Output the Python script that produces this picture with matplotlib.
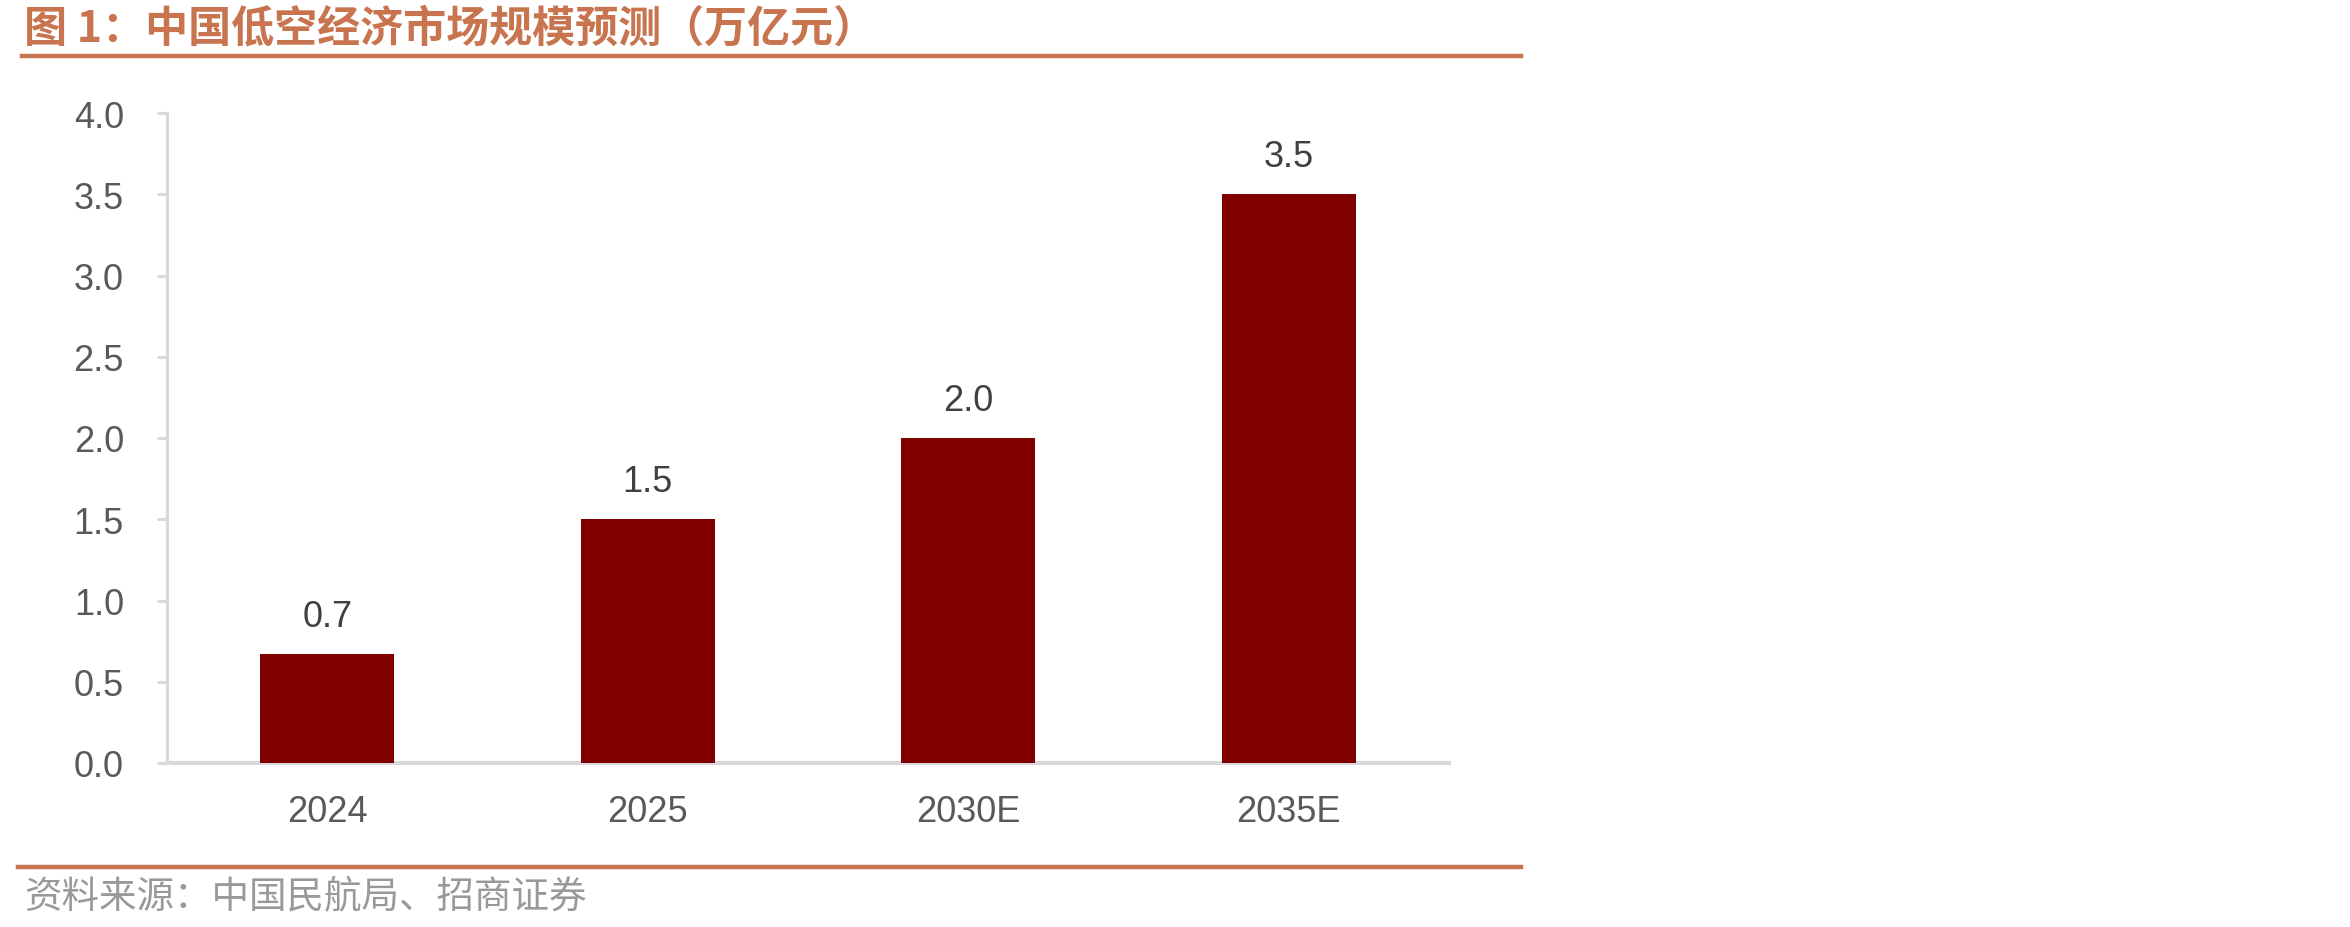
import matplotlib
matplotlib.use("Agg")
import matplotlib.pyplot as plt
from matplotlib.lines import Line2D

plt.rcParams['font.family'] = ['Liberation Sans', 'Noto Sans CJK SC', 'DejaVu Sans']

categories = ["2024", "2025", "2030E", "2035E"]
values = [0.67, 1.5, 2.0, 3.5]
value_labels = ["0.7", "1.5", "2.0", "3.5"]
yticks = [0.0, 0.5, 1.0, 1.5, 2.0, 2.5, 3.0, 3.5, 4.0]
title = "图 1：中国低空经济市场规模预测（万亿元）"
source = "资料来源：中国民航局、招商证券"

W, H = 2350, 928
dpi = 100
fig = plt.figure(figsize=(W / dpi, H / dpi), dpi=dpi)
fig.patch.set_facecolor("white")

ax = fig.add_axes([167 / W, 1 - 764 / H, (1449 - 167) / W, (764 - 114) / H])
x = list(range(len(categories)))
bars = ax.bar(x, values, width=0.418, color="#800000", zorder=3)
ax.set_xlim(-0.5, len(categories) - 0.5)
ax.set_ylim(0, 4.0)
ax.set_yticks(yticks)
ax.set_yticklabels([f"{t:.1f}" for t in yticks])
ax.set_xticks(x)
ax.set_xticklabels(categories)

axis_color = "#D9D9D9"
for side in ["top", "right"]:
    ax.spines[side].set_visible(False)
ax.spines["left"].set_color(axis_color)
ax.spines["left"].set_linewidth(2.2)
ax.spines["bottom"].set_color(axis_color)
ax.spines["bottom"].set_linewidth(3.0)
ax.tick_params(axis="y", direction="out", length=7, width=2.2, color=axis_color,
               labelsize=26, labelcolor="#595959", pad=24)
ax.tick_params(axis="x", length=0, labelsize=26, labelcolor="#595959", pad=22)

for xi, v, lab in zip(x, values, value_labels):
    ax.annotate(lab, (xi, v), xytext=(0, 27), textcoords="offset points",
                ha="center", va="center", fontsize=26, color="#404040")

line_color = "#C8754F"
fig.add_artist(Line2D([22 / W, 1521 / W], [1 - 57 / H, 1 - 57 / H],
                      color=line_color, linewidth=3.2, transform=fig.transFigure))
fig.add_artist(Line2D([18 / W, 1521 / W], [1 - 868 / H, 1 - 868 / H],
                      color=line_color, linewidth=3.2, transform=fig.transFigure))

fig.text(24 / W, 1 - 28 / H, title, fontsize=31, fontweight="bold", color="#C8754F",
         ha="left", va="center", family=['Noto Sans CJK SC', 'DejaVu Sans'])
fig.text(24 / W, 1 - 897 / H, source, fontsize=27, color="#999999",
         ha="left", va="center", family=['Noto Sans CJK SC', 'DejaVu Sans'])

fig.savefig("out.png", dpi=dpi, facecolor="white")
